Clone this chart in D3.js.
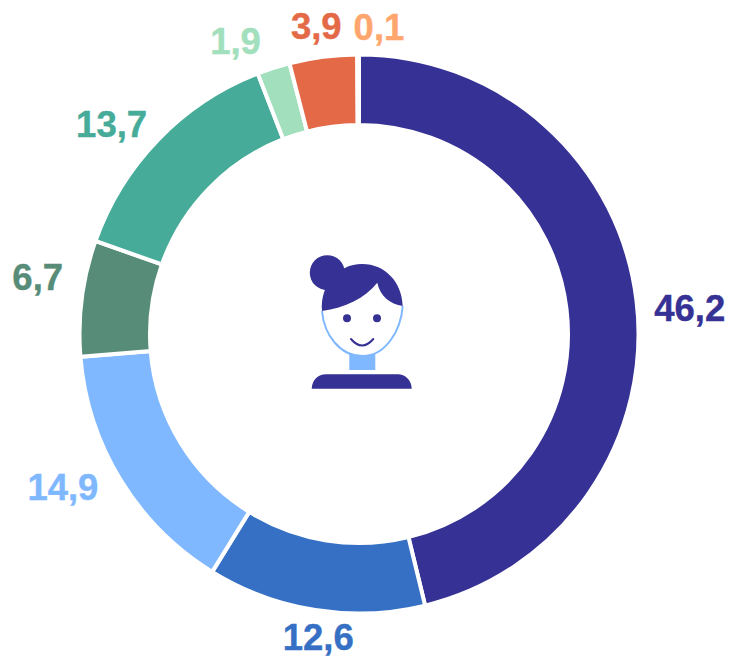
<!DOCTYPE html>
<html><head><meta charset="utf-8">
<script src="https://cdn.jsdelivr.net/npm/d3@7"></script>
<style>html,body{margin:0;padding:0;background:#fff}svg{display:block}</style>
</head><body><svg id="c" width="730" height="657"></svg>
<script>
const labels = ["46,2","12,6","14,9","6,7","13,7","1,9","3,9","0,1"];
const values = [46.2,12.6,14.9,6.7,13.7,1.9,3.9,0.1];
const colors = ["#363194","#3570c4","#80b8ff","#578c78","#46ab99","#a1dfbd","#e46a47","#ffa66e"];
const nudgeX = [8,10,-19,1,-14,-24,-1,21];
const nudgeY = [13,-17,-16,-15,17,17,15,18];
const cx=359, cy=334, outer=279.5, inner=209, labelR=325;
const svg=d3.select("#c");
const pie=d3.pie().sort(null).value(d=>d);
const arcs=pie(values);
const arc=d3.arc().innerRadius(inner).outerRadius(outer);
const labelArc=d3.arc().innerRadius(labelR).outerRadius(labelR);
const g=svg.append("g").attr("transform",`translate(${cx},${cy})`);
g.selectAll("path").data(arcs).join("path").attr("d",arc)
  .attr("fill",(d,i)=>colors[i]).attr("stroke","#fff").attr("stroke-width",4);
g.selectAll("text").data(arcs).join("text")
  .attr("x",(d,i)=>labelArc.centroid(d)[0]+nudgeX[i])
  .attr("y",(d,i)=>labelArc.centroid(d)[1]+nudgeY[i])
  .attr("text-anchor","middle").attr("dominant-baseline","central")
  .attr("font-family","'Liberation Sans',Arial,sans-serif").attr("font-weight","700").attr("font-size",36.5)
  .attr("fill",(d,i)=>colors[i]).attr("stroke",(d,i)=>colors[i]).attr("stroke-width",0.4).text((d,i)=>labels[i]);
// centre icon
const ic=svg.append("g");
ic.append("rect").attr("x",349.3).attr("y",350).attr("width",26).attr("height",20).attr("fill","#80b8ff");
ic.append("path").attr("d","M322,311 C324,335 340,356 362.5,356 C386,356 401,330 402.7,306").attr("fill","#fff").attr("stroke","#80b8ff").attr("stroke-width",2);
ic.append("circle").attr("cx",327.3).attr("cy",272.7).attr("r",17.5).attr("fill","#363194");
ic.append("path").attr("d","M322,311 C320,285 338,264 362,264 C386,264 402,283 402.7,306 C390,304 380,296 377.3,282.7 C365,298 345,308 322,311 Z").attr("fill","#363194");
ic.append("circle").attr("cx",347).attr("cy",318.3).attr("r",4).attr("fill","#363194");
ic.append("circle").attr("cx",377).attr("cy",318.3).attr("r",4).attr("fill","#363194");
ic.append("path").attr("d","M351,339 Q362,352 373.3,339").attr("fill","none").attr("stroke","#363194").attr("stroke-width",2).attr("stroke-linecap","round");
ic.append("path").attr("d","M311.7,388.7 C312,380 318,374.3 326,374.3 L398,374.3 C405,374.3 411.5,380 411.7,388.7 Z").attr("fill","#363194");
</script></body></html>
